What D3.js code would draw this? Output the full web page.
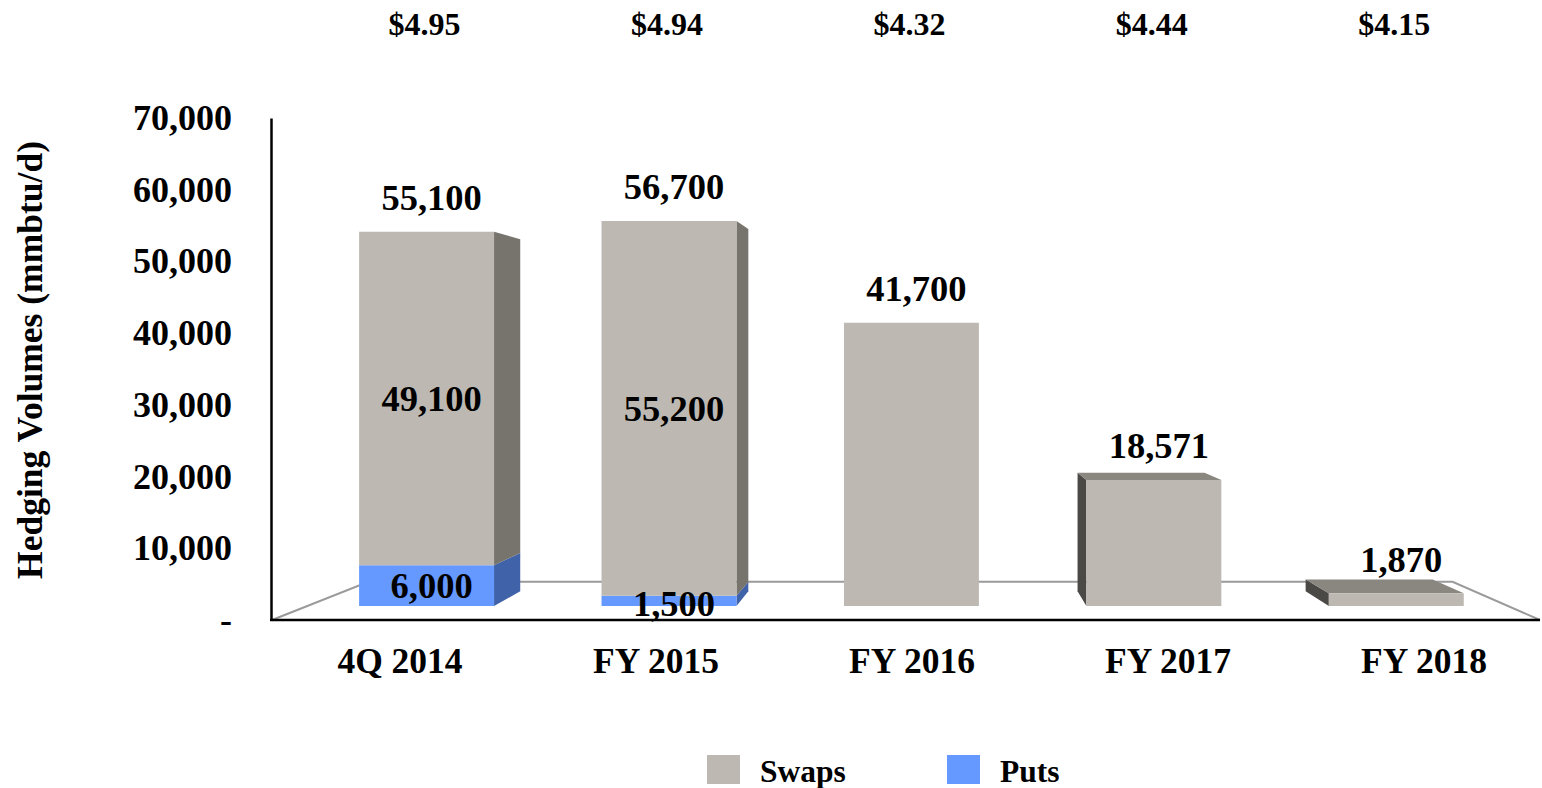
<!DOCTYPE html>
<html>
<head>
<meta charset="utf-8">
<script src="https://cdn.jsdelivr.net/npm/d3@7"></script>
<style>
  html, body { margin: 0; padding: 0; background: #ffffff; }
  svg { display: block; }
  text { font-family: "Liberation Serif", "Times New Roman", Times, serif; font-weight: bold; fill: #000; }
</style>
</head>
<body>
<svg id="chart" width="1542" height="788"></svg>
<script>
// ---- data ----
const categories = ["4Q 2014", "FY 2015", "FY 2016", "FY 2017", "FY 2018"];
const swaps = [49100, 55200, 41700, 18571, 1870];
const puts = [6000, 1500, 0, 0, 0];
const prices = ["$4.95", "$4.94", "$4.32", "$4.44", "$4.15"];
const yTicks = [0, 10000, 20000, 30000, 40000, 50000, 60000, 70000];
const seriesNames = ["Swaps", "Puts"];

// ---- styles ----
const colors = {
  Swaps: { front: "#bdb9b2", right: "#77736d", left: "#4b4946", top: "#8a8680" },
  Puts:  { front: "#6699ff", right: "#3f62a8", left: "#3f62a8", top: "#4f7bd0" }
};

const svg = d3.select("#chart");

// floor-front plane scales
const y = d3.scaleLinear().domain([0, 70000]).range([620, 118]);
const x = d3.scalePoint().domain(categories).range([398, 1422]);
const halfW = 71.25;

// perspective
const VP = [937, 357];
const K_BAR_FRONT = 0.947, K_BAR_BACK = 0.891, K_FLOOR_BACK = 0.855;
const proj = (xb, yb, k) => [VP[0] + (xb - VP[0]) * k, VP[1] + (yb - VP[1]) * k];
const line = d3.line();

// floor
const floorLeft = 272, floorRight = 1540;
const fl = proj(floorLeft, y(0), K_FLOOR_BACK), fr = proj(floorRight, y(0), K_FLOOR_BACK);
svg.append("path").attr("d", line([[floorLeft, y(0)], fl, fr, [floorRight, y(0)]]))
  .attr("fill", "none").attr("stroke", "#9a9a9a").attr("stroke-width", 2);

// bars
const barsG = svg.append("g");
const stackData = categories.map((c, i) => {
  const segs = [];
  let base = 0;
  if (puts[i] > 0) { segs.push({ name: "Puts", y0: base, y1: base + puts[i], v: puts[i] }); base += puts[i]; }
  segs.push({ name: "Swaps", y0: base, y1: base + swaps[i], v: swaps[i] });
  return { cat: c, i, segs, total: base + swaps[i] };
});

stackData.forEach(d => {
  const cx = x(d.cat);
  const xl = cx - halfW, xr = cx + halfW;
  d.segs.forEach((s, si) => {
    const col = colors[s.name];
    const yb0 = y(s.y0), yb1 = y(s.y1);
    const F = k => ({
      bl: proj(xl, yb0, k), br: proj(xr, yb0, k),
      tl: proj(xl, yb1, k), tr: proj(xr, yb1, k)
    });
    const f = F(K_BAR_FRONT), b = F(K_BAR_BACK);
    if (f.br[0] < VP[0]) {
      barsG.append("path").attr("d", line([f.br, b.br, b.tr, f.tr]) + "Z").attr("fill", col.right);
    }
    if (f.bl[0] > VP[0]) {
      barsG.append("path").attr("d", line([f.bl, b.bl, b.tl, f.tl]) + "Z").attr("fill", col.left);
    }
    if (si === d.segs.length - 1 && f.tl[1] > VP[1]) {
      barsG.append("path").attr("d", line([f.tl, f.tr, b.tr, b.tl]) + "Z").attr("fill", col.top);
    }
    barsG.append("path").attr("d", line([f.bl, f.br, f.tr, f.tl]) + "Z").attr("fill", col.front);
  });
});

// axis
const axisG = svg.append("g").attr("transform", "translate(271,0)")
  .call(d3.axisLeft(y).tickValues(yTicks).tickSize(0).tickPadding(39)
    .tickFormat(v => v === 0 ? "-" : d3.format(",")(v)));
axisG.select(".domain").attr("stroke", "#000").attr("stroke-width", 2.5);
axisG.selectAll(".tick text").style("font-size", "36px").style("font-family", "'Liberation Serif', serif")
  .style("font-weight", "bold").attr("fill", "#000");

// front floor line
svg.append("line").attr("x1", 270).attr("x2", floorRight).attr("y1", y(0)).attr("y2", y(0))
  .attr("stroke", "#000").attr("stroke-width", 2.5);

// category labels
svg.append("g").selectAll("text").data(categories).join("text")
  .attr("x", d => x(d) + 2).attr("y", 661).attr("text-anchor", "middle").attr("dominant-baseline", "central")
  .style("font-size", "35.5px").text(d => d);

// value labels
const labG = svg.append("g");
stackData.forEach(d => {
  const fc = proj(x(d.cat), y(0), K_BAR_FRONT)[0] + 5;
  const topY = proj(x(d.cat), y(d.total), K_BAR_FRONT)[1];
  labG.append("text").attr("x", fc).attr("y", topY - 34).attr("text-anchor", "middle")
    .attr("dominant-baseline", "central").style("font-size", "36.5px").text(d3.format(",")(d.total));
  if (d.segs.length > 1) {
    d.segs.forEach(s => {
      const my = proj(x(d.cat), y((s.y0 + s.y1) / 2), K_BAR_FRONT)[1];
      labG.append("text").attr("x", fc).attr("y", my + (s.name === "Puts" && s.v < 3000 ? 3 : 0))
        .attr("text-anchor", "middle").attr("dominant-baseline", "central")
        .style("font-size", "36.5px").text(d3.format(",")(s.v));
    });
  }
});

// price labels
svg.append("g").selectAll("text").data(prices).join("text")
  .attr("x", (p, i) => proj(x(categories[i]), y(0), K_BAR_FRONT)[0] - 2).attr("y", 24)
  .attr("text-anchor", "middle").attr("dominant-baseline", "central")
  .style("font-size", "32px").text(p => p);

// y title
svg.append("text").attr("transform", "translate(42,360) rotate(-90)")
  .attr("text-anchor", "middle").style("font-size", "35.5px").text("Hedging Volumes (mmbtu/d)");

// legend
const legX = [707, 947];
const leg = svg.append("g").selectAll("g").data(seriesNames).join("g")
  .attr("transform", (d, i) => `translate(${legX[i]},755)`);
leg.append("rect").attr("width", 33).attr("height", 29).attr("fill", d => colors[d].front);
leg.append("text").attr("x", 53).attr("y", 16).attr("dominant-baseline", "central")
  .style("font-size", "31.5px").text(d => d);
</script>
</body>
</html>
